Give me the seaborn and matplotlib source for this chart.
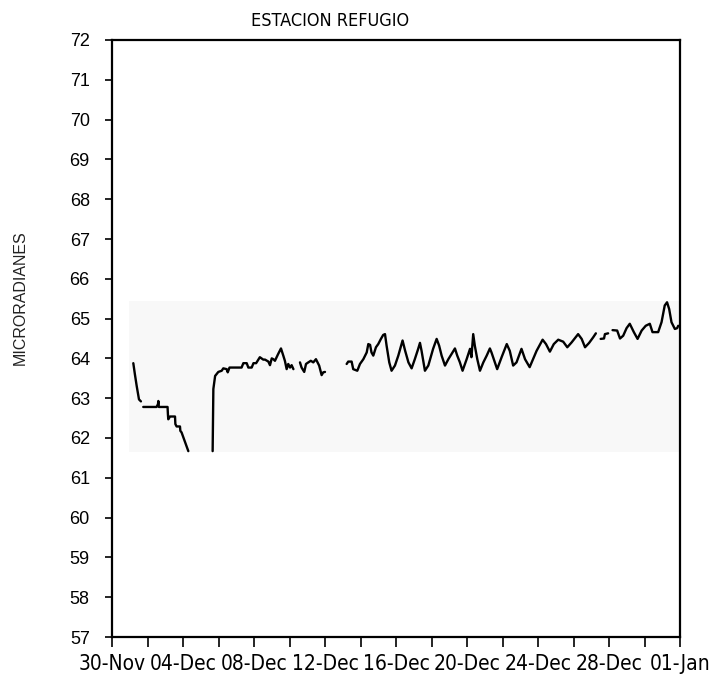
import numpy as np
import pandas as pd
import matplotlib
matplotlib.use("Agg")
import matplotlib.pyplot as plt
import seaborn as sns
from matplotlib import font_manager

# ---------------- data (days since 30-Nov, microradians) ----------------
seg0_days = [1.20, 1.29, 1.39, 1.52, 1.63]
seg0_vals = [63.88, 63.60, 63.31, 62.97, 62.92]

seg1_days = [1.76, 2.51, 2.59, 2.61, 2.64, 3.13, 3.15, 3.17, 3.27, 3.55, 3.57,
             3.64, 3.83, 3.85, 3.92, 4.30]
seg1_vals = [62.78, 62.78, 62.85, 62.93, 62.78, 62.78, 62.60, 62.47, 62.54, 62.54,
             62.35, 62.29, 62.29, 62.18, 62.14, 61.67]

seg2_days = [5.67, 5.71, 5.81, 5.99, 6.18, 6.27, 6.46, 6.52, 6.62, 7.30, 7.40,
             7.59, 7.68, 7.87, 7.97, 8.12, 8.33, 8.52, 8.62, 8.81, 8.90, 9.00,
             9.09, 9.18, 9.36, 9.52, 9.65, 9.74, 9.84, 9.93, 10.03, 10.12, 10.22]
seg2_vals = [61.67, 63.23, 63.56, 63.66, 63.69, 63.75, 63.73, 63.65, 63.77, 63.77,
             63.88, 63.88, 63.77, 63.77, 63.88, 63.88, 64.03, 63.97, 63.97, 63.92,
             63.83, 64.00, 63.98, 63.94, 64.11, 64.25, 64.07, 63.94, 63.73, 63.86,
             63.77, 63.83, 63.73]

seg3_days = [10.59, 10.68, 10.83, 10.93, 11.06, 11.20, 11.34, 11.49, 11.67, 11.81,
             11.90, 12.00]
seg3_vals = [63.90, 63.77, 63.66, 63.86, 63.90, 63.94, 63.90, 63.98, 63.82, 63.58,
             63.65, 63.66]

seg4_days = [13.22, 13.31, 13.50, 13.59, 13.82, 13.97, 14.16, 14.35, 14.44, 14.54,
             14.62, 14.72, 14.87, 15.00, 15.15, 15.28, 15.38, 15.47, 15.62, 15.75,
             15.94, 16.13, 16.37, 16.51, 16.70, 16.88, 17.06, 17.25, 17.35, 17.44,
             17.63, 17.82, 18.09, 18.29, 18.43, 18.57, 18.76, 18.95, 19.13, 19.32,
             19.45, 19.60, 19.75, 19.98, 20.17, 20.25, 20.35, 20.44, 20.58, 20.73,
             20.92, 21.11, 21.29, 21.38, 21.57, 21.70, 21.95, 22.24, 22.41, 22.60,
             22.79, 23.07, 23.27, 23.53, 23.92, 24.26, 24.45, 24.67, 24.89, 25.14,
             25.42, 25.65, 25.89, 26.26, 26.46, 26.65, 26.88, 27.11, 27.26]
seg4_vals = [63.86, 63.92, 63.92, 63.73, 63.69, 63.86, 63.98, 64.15, 64.36, 64.34,
             64.15, 64.07, 64.28, 64.36, 64.49, 64.59, 64.61, 64.32, 63.90, 63.69,
             63.82, 64.07, 64.45, 64.20, 63.90, 63.75, 63.98, 64.24, 64.39, 64.19,
             63.69, 63.82, 64.24, 64.49, 64.32, 64.07, 63.82, 63.98, 64.11, 64.25,
             64.07, 63.90, 63.69, 63.98, 64.24, 64.03, 64.61, 64.32, 63.98, 63.69,
             63.90, 64.07, 64.25, 64.15, 63.90, 63.73, 64.03, 64.36, 64.19, 63.82,
             63.90, 64.24, 63.98, 63.78, 64.19, 64.47, 64.36, 64.17, 64.36, 64.47,
             64.42, 64.28, 64.40, 64.61, 64.49, 64.28, 64.39, 64.53, 64.63]

seg5_days = [27.53, 27.72, 27.77, 27.95]
seg5_vals = [64.49, 64.50, 64.61, 64.63]

seg6_days = [28.20, 28.46, 28.62, 28.80, 28.99, 29.17, 29.40, 29.61, 29.84, 30.07,
             30.30, 30.45, 30.77, 30.96, 31.14, 31.27, 31.39, 31.52, 31.71, 31.84,
             31.90]
seg6_vals = [64.71, 64.70, 64.50, 64.57, 64.76, 64.87, 64.66, 64.49, 64.70, 64.82,
             64.87, 64.66, 64.66, 64.91, 65.33, 65.41, 65.24, 64.91, 64.74, 64.76,
             64.82]

y_ticks = list(range(57, 73))
x_tick_days = list(range(0, 33, 2))
x_tick_labels = ["30-Nov", "04-Dec", "08-Dec", "12-Dec", "16-Dec",
                 "20-Dec", "24-Dec", "28-Dec", "01-Jan"]
title_text = "ESTACION REFUGIO"
ylabel_text = "MICRORADIANES"

# ---------------- assemble ----------------
seg_days = [seg0_days, seg1_days, seg2_days, seg3_days, seg4_days, seg5_days, seg6_days]
seg_vals = [seg0_vals, seg1_vals, seg2_vals, seg3_vals, seg4_vals, seg5_vals, seg6_vals]
frames = []
for i, (d, v) in enumerate(zip(seg_days, seg_vals)):
    frames.append(pd.DataFrame({"day": d, "val": v, "seg": i}))
df = pd.concat(frames, ignore_index=True)

sns.set_style("ticks")
plt.rcParams["font.family"] = ["Liberation Sans", "DejaVu Sans"]

# a condensed face for the title and date labels if one is installed
cond_fams = [f for f in font_manager.fontManager.ttflist
             if f.name in ("DejaVu Sans", "Liberation Sans Narrow") and f.stretch == "condensed"
             and f.weight in (400, "normal") and f.style == "normal"]
if cond_fams:
    cond = dict(family=cond_fams[0].name, stretch="condensed")
    title_size, xlab_size = 13, 15
else:
    cond = dict(family=["Liberation Sans", "DejaVu Sans"])
    title_size, xlab_size = 11, 13.5

fig = plt.figure(figsize=(7.15, 6.76), dpi=100)
ax = fig.add_axes([112 / 715, 1 - 637 / 676, 568 / 715, 597 / 676])

# faint scanned band
ax.axhspan(61.65, 65.45, xmin=0.03, xmax=1.0, color="#f8f8f8", zorder=0, lw=0)

sns.lineplot(data=df, x="day", y="val", units="seg", estimator=None, sort=False,
             color="black", linewidth=1.7, ax=ax, legend=False)

ax.set_xlim(0, 32)
ax.set_ylim(57, 72)
ax.set_yticks(y_ticks)
ax.set_yticklabels([str(t) for t in y_ticks])
ax.set_xticks(x_tick_days)
full_labels = []
j = 0
for k in range(len(x_tick_days)):
    if k % 2 == 0:
        full_labels.append(x_tick_labels[j])
        j += 1
    else:
        full_labels.append("")
ax.set_xticklabels(full_labels)
ax.set_xlabel("")
ax.set_ylabel("")

ax.tick_params(axis="y", direction="out", length=5, width=1.2, pad=11,
               labelsize=13, colors="black")
ax.tick_params(axis="x", direction="out", length=7, width=1.2, pad=5,
               colors="black")
for lab in ax.get_xticklabels():
    lab.set_fontproperties(font_manager.FontProperties(size=xlab_size, **cond))

for s in ax.spines.values():
    s.set_visible(True)
    s.set_linewidth(1.6)
    s.set_color("black")

fig.text(330 / 715, 1 - 26 / 676, title_text, ha="center", va="baseline",
         color="black", fontsize=title_size, **cond)
fig.text(20 / 715, 1 - 298 / 676, ylabel_text, rotation=90, ha="center", va="center",
         fontsize=11.5, color="#222222")

fig.savefig("out.png", dpi=100)
